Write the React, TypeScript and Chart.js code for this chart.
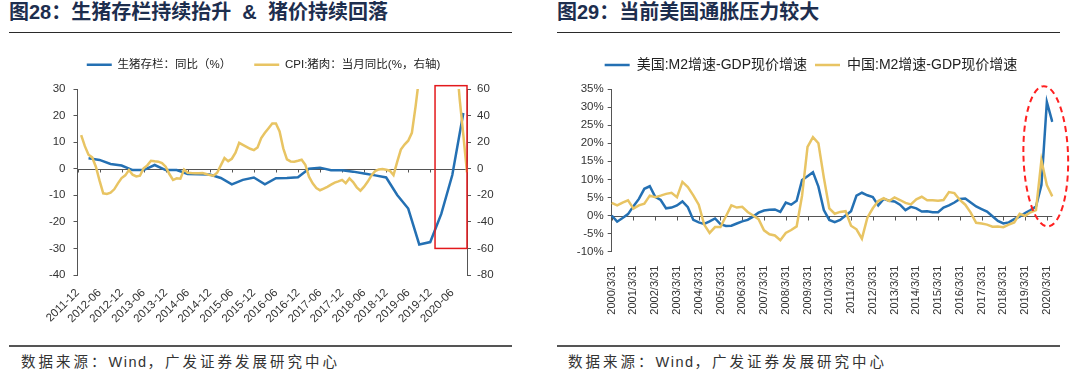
import React, { useEffect, useRef } from "react";
import { Chart, registerables } from "chart.js";

Chart.register(...registerables);

// ---------------- 图28 data (monthly category axis, 2011-12 … 2020-10) ----------------
const PIG_MONTHS: string[] = (() => {
  const out: string[] = [];
  let y = 2011;
  let m = 12;
  for (let i = 0; i < 107; i++) {
    out.push(`${y}-${String(m).padStart(2, "0")}`);
    m += 1;
    if (m > 12) {
      m = 1;
      y += 1;
    }
  }
  return out;
})();

const PIG_TICKS = [
  "2011-12", "2012-06", "2012-12", "2013-06", "2013-12", "2014-06", "2014-12", "2015-06", "2015-12",
  "2016-06", "2016-12", "2017-06", "2017-12", "2018-06", "2018-12", "2019-06", "2019-12", "2020-06",
];

// 生猪存栏：同比（%）— quarterly observations
const HOG_STOCK_DATES = [
  "2012-03", "2012-06", "2012-09", "2012-12", "2013-03", "2013-06", "2013-09", "2013-12",
  "2014-03", "2014-06", "2014-09", "2014-12", "2015-03", "2015-06", "2015-09", "2015-12",
  "2016-03", "2016-06", "2016-09", "2016-12", "2017-03", "2017-06", "2017-09", "2017-12",
  "2018-03", "2018-06", "2018-09", "2018-12", "2019-03", "2019-06", "2019-09", "2019-12",
  "2020-03", "2020-06", "2020-09",
];
const HOG_STOCK_YOY = [
  3.9, 3.3, 1.8, 1.2, -0.5, -0.5, 1.4, -0.5,
  -0.5, -2.0, -2.1, -2.2, -3.5, -5.9, -4.2, -3.3,
  -5.9, -3.6, -3.5, -3.2, 0.0, 0.4, -0.6, -0.6,
  -1.1, -1.8, -2.5, -3.3, -9.9, -15.0, -28.5, -27.6,
  -17.0, -2.4, 21.0,
];

// CPI:猪肉：当月同比（%，右轴）— monthly, aligned with PIG_MONTHS
const CPI_PORK_YOY = [
  null,
  25.3, 17.0, 10.5, 8.5, 1.5, -9.0, -18.5, -19.0, -18.0, -15.5, -11.0, -7.0,
  -5.0, -1.0, -4.5, -5.8, -5.3, 0.3, 2.5, 6.0, 5.6, 5.3, 4.2, 1.5,
  -4.0, -8.5, -7.2, -7.5, -0.6, -3.0, -3.3, -3.5, -3.5, -3.3, -4.0, -4.8,
  -5.3, -3.0, 2.5, 8.0, 5.7, 7.5, 12.0, 19.5, 18.0, 16.5, 15.0, 14.0,
  16.0, 23.0, 27.0, 30.5, 34.0, 34.0, 28.0, 15.3, 7.0, 5.5, 5.3, 6.0,
  6.8, 3.0, -6.0, -11.0, -14.5, -16.2, -15.0, -13.6, -12.0, -10.5, -9.5, -8.4,
  -10.9, -7.3, -10.0, -14.0, -16.5, -13.5, -9.7, -5.0, -1.8, -0.5, -0.3, -0.8,
  -1.5, -4.8, 5.1, 14.4, 18.2, 21.1, 27.0, 46.7, 69.3, 101.3, 110.2, 97.0,
  116.0, 135.2, 116.4, 96.9, 81.7, 81.6, 85.7, 52.6, 25.5, -2.8,
];

// red highlight box (x in category index, y in right-axis units)
const PIG_HIGHLIGHT = { xFrom: 97.3, xTo: 106, yFrom: -60, yTo: 62.5 };

// ---------------- 图29 data (quarterly, 2000/3/31 … 2020/6/30) ----------------
const QUARTER_ENDS = ["3/31", "6/30", "9/30", "12/31"];
const QUARTERS: string[] = (() => {
  const out: string[] = [];
  for (let y = 2000; y <= 2020; y++) for (const q of QUARTER_ENDS) out.push(`${y}/${q}`);
  return out.slice(0, 82);
})();
const QUARTER_TICKS = [
  "2000/3/31", "2001/3/31", "2002/3/31", "2003/3/31", "2004/3/31", "2005/3/31", "2006/3/31",
  "2007/3/31", "2008/3/31", "2009/3/31", "2010/3/31", "2011/3/31", "2012/3/31", "2013/3/31",
  "2014/3/31", "2015/3/31", "2016/3/31", "2017/3/31", "2018/3/31", "2019/3/31", "2020/3/31",
];

const US_M2_GDP_GAP = [
  0.0, -1.7, -0.7, 0.4, 2.6, 4.6, 7.4, 8.1, 5.2, 4.3,
  2.0, 2.2, 2.8, 3.9, 2.3, -1.2, -1.9, -2.3, -1.6, -0.8,
  -2.4, -2.9, -2.8, -2.2, -1.6, -1.2, -0.3, 0.8, 1.4, 1.6,
  1.7, 1.0, 3.6, 3.0, 4.1, 9.8, 10.9, 12.0, 8.0, 1.5,
  -1.2, -1.8, -1.2, 0.0, 1.2, 5.5, 6.3, 5.6, 5.1, 2.8,
  4.6, 4.1, 3.9, 3.0, 1.5, 2.4, 2.0, 1.1, 1.2, 0.9,
  0.9, 2.2, 2.8, 3.6, 4.6, 4.7, 3.6, 2.5, 1.8, 1.1,
  -0.2, -1.5, -2.2, -1.9, -1.0, -0.3, 0.7, 1.5, 2.5, 8.4,
  31.4, 25.9,
];
const CN_M2_GDP_GAP = [
  3.5, 2.8, 3.6, 4.2, 1.9, 2.8, 3.3, 5.5, 5.1, 5.5,
  6.0, 6.3, 5.1, 9.3, 7.9, 5.6, 3.0, -2.5, -4.8, -3.2,
  -3.2, -0.2, 2.8, 2.2, 2.4, 1.0, 0.0, -1.0, -4.1, -5.2,
  -5.5, -6.8, -4.8, -4.0, -3.0, 5.5, 19.0, 21.7, 20.0, 10.5,
  2.0, 0.5, 1.0, 1.2, -2.8, -3.8, -6.4, -0.6, 2.0, 4.0,
  4.8, 4.0, 5.0, 4.3, 3.5, 3.1, 4.5, 5.2, 4.2, 4.2,
  4.1, 4.3, 6.5, 6.2, 4.3, 3.0, 0.8, -2.0, -2.2, -2.5,
  -3.1, -3.0, -3.2, -2.5, -1.9, 0.5, -0.1, 0.9, 1.5, 15.3,
  8.4, 5.3,
];

// red dashed ellipse (x in category index, y in %)
const M2_HIGHLIGHT = { x: 79.8, rx: 4.1, y: 16.4, ry: 19.4 };

// ---------------- styles ----------------
const BLUE = "#2470b3";
const GOLD = "#e8c463";
const AXIS = "#555555";
const TEXT = "#333333";
const RED = "#e3191c";
const FONT = '"Liberation Sans", Arial, "Noto Sans CJK SC", sans-serif';

const legendLabels = (size: number, padding: number) => ({
  boxWidth: 25,
  boxHeight: 2.5,
  padding,
  color: "#222",
  font: { family: FONT, size },
  sort: (a: any, b: any) => a.datasetIndex - b.datasetIndex,
  generateLabels: (chart: any) =>
    Chart.defaults.plugins.legend.labels
      .generateLabels(chart)
      .map((l: any) => ({ ...l, lineWidth: 0, fillStyle: l.strokeStyle })),
});

const spacer = (h: number) => ({
  display: true,
  text: " ",
  position: "top",
  weight: 500,
  padding: 0,
  font: { size: h, lineHeight: 1 },
});

const overlayPlugin = {
  id: "overlay",
  beforeDatasetsDraw(chart: any, _a: any, opts: any) {
    const z = opts && opts.zeroAxis;
    if (!z) return;
    const { ctx, chartArea } = chart;
    const ys = chart.scales[z.yAxisID];
    const xs = chart.scales.x;
    const y0 = Math.round(ys.getPixelForValue(0)) + 0.5;
    ctx.save();
    ctx.strokeStyle = z.color;
    ctx.lineWidth = 1;
    ctx.beginPath();
    ctx.moveTo(chartArea.left, y0);
    ctx.lineTo(chartArea.right, y0);
    xs.ticks.forEach((t: any) => {
      const x = Math.round(xs.getPixelForValue(t.value)) + 0.5;
      ctx.moveTo(x, y0);
      ctx.lineTo(x, y0 + z.tickLength);
    });
    ctx.stroke();
    ctx.restore();
  },
  afterDatasetsDraw(chart: any, _a: any, opts: any) {
    const { ctx } = chart;
    const xs = chart.scales.x;
    if (opts && opts.box) {
      const b = opts.box;
      const ys = chart.scales[b.yAxisID];
      const x1 = xs.getPixelForValue(b.xFrom);
      const x2 = xs.getPixelForValue(b.xTo);
      const y1 = ys.getPixelForValue(b.yTo);
      const y2 = ys.getPixelForValue(b.yFrom);
      ctx.save();
      ctx.strokeStyle = b.color;
      ctx.lineWidth = b.width;
      ctx.strokeRect(x1, y1, x2 - x1, y2 - y1);
      ctx.restore();
    }
    if (opts && opts.ellipse) {
      const e = opts.ellipse;
      const ys = chart.scales[e.yAxisID];
      const cx = xs.getPixelForValue(e.x);
      const rx = Math.abs(xs.getPixelForValue(e.x + e.rx) - cx);
      const cy = ys.getPixelForValue(e.y);
      const ry = Math.abs(ys.getPixelForValue(e.y + e.ry) - cy);
      ctx.save();
      ctx.strokeStyle = e.color;
      ctx.lineWidth = e.width;
      ctx.setLineDash(e.dash);
      ctx.beginPath();
      ctx.ellipse(cx, cy, rx, ry, e.rotation, 0, Math.PI * 2);
      ctx.stroke();
      ctx.restore();
    }
  },
};

const tickFont = (size: number) => ({ family: FONT, size });

function pigConfig(): any {
  return {
    type: "line",
    data: {
      labels: PIG_MONTHS,
      datasets: [
        {
          label: "生猪存栏：同比（%）",
          data: HOG_STOCK_DATES.map((d, i) => ({ x: d, y: HOG_STOCK_YOY[i] })),
          borderColor: BLUE,
          backgroundColor: BLUE,
          borderWidth: 2.5,
          pointRadius: 0,
          yAxisID: "y",
          order: 1,
        },
        {
          label: "CPI:猪肉：当月同比(%，右轴)",
          data: CPI_PORK_YOY,
          borderColor: GOLD,
          backgroundColor: GOLD,
          borderWidth: 2.5,
          pointRadius: 0,
          spanGaps: true,
          yAxisID: "y1",
          order: 0,
        },
      ],
    },
    options: {
      animation: false,
      responsive: false,
      maintainAspectRatio: false,
      events: [],
      layout: { padding: 0 },
      plugins: {
        legend: { display: true, position: "top", labels: legendLabels(11.5, 23) },
        title: spacer(8.5),
        tooltip: { enabled: false },
        overlay: {
          zeroAxis: { yAxisID: "y", color: AXIS, tickLength: 3 },
          box: { ...PIG_HIGHLIGHT, yAxisID: "y1", color: RED, width: 1.5 },
        },
      },
      scales: {
        x: {
          type: "category",
          offset: false,
          grid: { display: false },
          border: { display: false },
          ticks: {
            autoSkip: false,
            minRotation: 45,
            maxRotation: 45,
            padding: 3,
            color: TEXT,
            font: tickFont(11.5),
          },
          afterBuildTicks: (s: any) => {
            s.ticks = s.ticks.filter((t: any) => PIG_TICKS.includes(PIG_MONTHS[t.value]));
          },
          afterFit: (s: any) => {
            s.height = 65;
          },
        },
        y: {
          type: "linear",
          position: "left",
          min: -40,
          max: 30,
          ticks: { stepSize: 10, padding: 8, color: TEXT, font: tickFont(11.5) },
          grid: { display: true, drawOnChartArea: false, drawTicks: true, tickLength: 4, color: AXIS },
          border: { display: true, color: AXIS, width: 1 },
          afterFit: (s: any) => {
            s.width = 77.5;
          },
        },
        y1: {
          type: "linear",
          position: "right",
          min: -80,
          max: 60,
          ticks: { stepSize: 20, padding: 6, color: TEXT, font: tickFont(11.5) },
          grid: { display: true, drawOnChartArea: false, drawTicks: true, tickLength: 4, color: AXIS },
          border: { display: true, color: AXIS, width: 1 },
          afterFit: (s: any) => {
            s.width = 60;
          },
        },
      },
    },
    plugins: [overlayPlugin],
  };
}

function m2Config(): any {
  return {
    type: "line",
    data: {
      labels: QUARTERS,
      datasets: [
        {
          label: "美国:M2增速-GDP现价增速",
          data: US_M2_GDP_GAP,
          borderColor: BLUE,
          backgroundColor: BLUE,
          borderWidth: 2.5,
          pointRadius: 0,
          order: 1,
        },
        {
          label: "中国:M2增速-GDP现价增速",
          data: CN_M2_GDP_GAP,
          borderColor: GOLD,
          backgroundColor: GOLD,
          borderWidth: 2.5,
          pointRadius: 0,
          order: 0,
        },
      ],
    },
    options: {
      animation: false,
      responsive: false,
      maintainAspectRatio: false,
      events: [],
      layout: { padding: { left: 29.7, right: 22.7, top: 0, bottom: 0 } },
      plugins: {
        legend: { display: true, position: "top", labels: legendLabels(14, 8) },
        title: spacer(7),
        tooltip: { enabled: false },
        overlay: {
          zeroAxis: { yAxisID: "y", color: AXIS, tickLength: 4 },
          ellipse: { ...M2_HIGHLIGHT, yAxisID: "y", color: "#ff2020", width: 2, dash: [6, 4], rotation: -0.03 },
        },
      },
      scales: {
        x: {
          type: "category",
          offset: false,
          grid: { display: false },
          border: { display: false },
          ticks: {
            autoSkip: false,
            minRotation: 90,
            maxRotation: 90,
            padding: 6,
            color: TEXT,
            font: tickFont(11),
          },
          afterBuildTicks: (s: any) => {
            s.ticks = s.ticks.filter((t: any) => QUARTER_TICKS.includes(QUARTERS[t.value]));
          },
          afterFit: (s: any) => {
            s.height = 88.3;
          },
        },
        y: {
          type: "linear",
          position: "left",
          min: -10,
          max: 35,
          ticks: {
            stepSize: 5,
            padding: 4,
            color: TEXT,
            font: tickFont(11.5),
            callback: (v: any) => `${v}%`,
          },
          grid: { display: true, drawOnChartArea: false, drawTicks: true, tickLength: 4, color: AXIS },
          border: { display: true, color: AXIS, width: 1 },
          afterFit: (s: any) => {
            s.width = 42;
          },
        },
      },
    },
    plugins: [overlayPlugin],
  };
}

const titleStyle: React.CSSProperties = {
  position: "absolute",
  top: 2,
  fontFamily: FONT,
  fontWeight: 700,
  fontSize: 20,
  lineHeight: "20px",
  color: "#1d2e4e",
  whiteSpace: "pre",
};
const footStyle: React.CSSProperties = {
  position: "absolute",
  top: 354,
  fontFamily: FONT,
  fontSize: 14.5,
  lineHeight: "16px",
  color: TEXT,
  whiteSpace: "pre",
};
const cjkSpaced: React.CSSProperties = { letterSpacing: 3 };
const latinSpaced: React.CSSProperties = { letterSpacing: 1.5 };
const rule = (left: number, top: number, width: number, height: number, color: string): React.CSSProperties => ({
  position: "absolute",
  left,
  top,
  width,
  height,
  background: color,
});

function Footer({ left }: { left: number }) {
  return (
    <div style={{ ...footStyle, left }}>
      <span style={cjkSpaced}>{"数据来源："}</span>
      <span style={latinSpaced}>{"Wind"}</span>
      <span style={cjkSpaced}>{"，广发证券发展研究中心"}</span>
    </div>
  );
}

export default function App() {
  const pigRef = useRef<HTMLCanvasElement>(null);
  const m2Ref = useRef<HTMLCanvasElement>(null);

  useEffect(() => {
    const c1 = new Chart(pigRef.current as HTMLCanvasElement, pigConfig());
    const c2 = new Chart(m2Ref.current as HTMLCanvasElement, m2Config());
    return () => {
      c1.destroy();
      c2.destroy();
    };
  }, []);

  return (
    <div
      style={{
        position: "fixed",
        left: 0,
        top: 0,
        width: 1080,
        height: 374,
        background: "#fff",
        overflow: "hidden",
      }}
    >
      <div style={{ ...titleStyle, left: 9 }}>{"图28：生猪存栏持续抬升  &  猪价持续回落"}</div>
      <div style={{ ...titleStyle, left: 557 }}>{"图29：当前美国通胀压力较大"}</div>
      <div style={rule(9, 32, 503, 1, "#2a2a2a")} />
      <div style={rule(557, 32, 503, 1, "#2a2a2a")} />

      <canvas
        ref={pigRef}
        width={527}
        height={304}
        style={{ position: "absolute", left: 0, top: 36, width: 527, height: 304 }}
      />
      <canvas
        ref={m2Ref}
        width={535}
        height={290}
        style={{ position: "absolute", left: 540, top: 50, width: 535, height: 290 }}
      />

      <div style={rule(9, 345, 503, 2, "#555")} />
      <div style={rule(557, 345, 503, 2, "#555")} />
      <Footer left={21} />
      <Footer left={568} />
    </div>
  );
}
